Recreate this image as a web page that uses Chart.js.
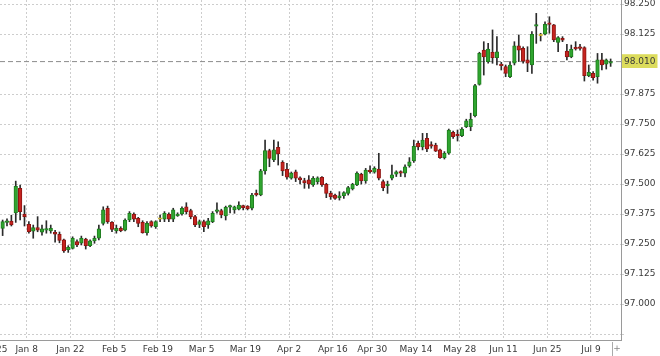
<!DOCTYPE html>
<html>
<head>
<meta charset="utf-8">
<script src="https://cdn.jsdelivr.net/npm/chart.js@4.4.1/dist/chart.umd.min.js"></script>
<style>
  html, body { margin: 0; padding: 0; background: #fff; }
  #wrap { width: 660px; height: 356px; }
</style>
</head>
<body>
<div id="wrap"><canvas id="priceChart" width="660" height="356"></canvas></div>
<script>
// daily candles, one per trading day (index 0 = first bar on the left)
var openPrices = [
  97.315, 97.340, 97.345, 97.380, 97.482, 97.374, 97.332, 97.303, 97.318, 97.299,
  97.308, 97.304, 97.299, 97.290, 97.267, 97.226, 97.232, 97.260, 97.253, 97.271,
  97.243, 97.263, 97.274, 97.336, 97.399, 97.340, 97.304, 97.315, 97.308, 97.350,
  97.375, 97.357, 97.340, 97.297, 97.343, 97.322, 97.353, 97.353, 97.375, 97.353,
  97.368, 97.375, 97.405, 97.389, 97.364, 97.332, 97.343, 97.329, 97.343, 97.386,
  97.389, 97.367, 97.403, 97.392, 97.395, 97.410, 97.408, 97.399, 97.461, 97.454,
  97.555, 97.639, 97.600, 97.653, 97.590, 97.561, 97.524, 97.551, 97.526, 97.514,
  97.517, 97.496, 97.510, 97.528, 97.499, 97.461, 97.454, 97.443, 97.451, 97.461,
  97.479, 97.496, 97.540, 97.513, 97.558, 97.549, 97.562, 97.510, 97.493, 97.524,
  97.541, 97.551, 97.545, 97.575, 97.597, 97.669, 97.655, 97.690, 97.662, 97.662,
  97.642, 97.610, 97.628, 97.715, 97.707, 97.701, 97.739, 97.739, 97.785, 97.915,
  98.058, 98.010, 98.049, 98.026, 98.000, 97.989, 97.947, 98.003, 98.076, 98.065,
  98.017, 97.996, 98.158, 98.118, 98.124, 98.170, 98.163, 98.090, 98.107, 98.054,
  98.030, 98.068, 98.072, 98.068, 97.951, 97.961, 97.947, 98.017, 97.999, 98.003
];
var highPrices = [
  97.350, 97.355, 97.370, 97.512, 97.496, 97.410, 97.343, 97.329, 97.364, 97.329,
  97.347, 97.329, 97.307, 97.300, 97.270, 97.243, 97.280, 97.267, 97.283, 97.274,
  97.267, 97.283, 97.329, 97.405, 97.408, 97.343, 97.329, 97.322, 97.355, 97.385,
  97.380, 97.361, 97.347, 97.343, 97.347, 97.347, 97.370, 97.385, 97.380, 97.399,
  97.380, 97.405, 97.422, 97.395, 97.369, 97.350, 97.350, 97.357, 97.385, 97.422,
  97.395, 97.408, 97.412, 97.408, 97.426, 97.412, 97.410, 97.461, 97.475, 97.561,
  97.683, 97.645, 97.683, 97.676, 97.597, 97.586, 97.550, 97.558, 97.530, 97.524,
  97.535, 97.531, 97.530, 97.531, 97.503, 97.470, 97.458, 97.468, 97.468, 97.490,
  97.503, 97.551, 97.545, 97.565, 97.576, 97.572, 97.628, 97.517, 97.512, 97.579,
  97.555, 97.555, 97.580, 97.610, 97.683, 97.679, 97.711, 97.711, 97.676, 97.670,
  97.646, 97.635, 97.729, 97.721, 97.725, 97.735, 97.770, 97.795, 97.915, 98.049,
  98.093, 98.086, 98.142, 98.114, 98.007, 97.996, 98.010, 98.093, 98.121, 98.072,
  98.072, 98.135, 98.211, 98.128, 98.176, 98.197, 98.165, 98.114, 98.114, 98.082,
  98.079, 98.093, 98.082, 98.072, 97.996, 97.968, 98.044, 98.044, 98.021, 98.021
];
var lowPrices = [
  97.285, 97.325, 97.325, 97.340, 97.350, 97.325, 97.295, 97.274, 97.301, 97.287,
  97.295, 97.295, 97.258, 97.255, 97.215, 97.215, 97.229, 97.239, 97.246, 97.229,
  97.239, 97.253, 97.267, 97.329, 97.336, 97.301, 97.295, 97.301, 97.304, 97.343,
  97.343, 97.322, 97.295, 97.287, 97.320, 97.315, 97.343, 97.343, 97.343, 97.343,
  97.365, 97.370, 97.375, 97.355, 97.322, 97.318, 97.301, 97.315, 97.339, 97.378,
  97.359, 97.350, 97.380, 97.378, 97.392, 97.392, 97.392, 97.392, 97.450, 97.451,
  97.541, 97.572, 97.593, 97.579, 97.535, 97.520, 97.520, 97.510, 97.500, 97.482,
  97.482, 97.490, 97.500, 97.490, 97.443, 97.436, 97.436, 97.433, 97.440, 97.454,
  97.475, 97.493, 97.500, 97.503, 97.545, 97.545, 97.517, 97.472, 97.461, 97.517,
  97.531, 97.531, 97.530, 97.570, 97.590, 97.642, 97.642, 97.635, 97.649, 97.635,
  97.607, 97.604, 97.624, 97.690, 97.679, 97.697, 97.735, 97.722, 97.780, 97.912,
  97.954, 98.003, 98.003, 97.996, 97.975, 97.947, 97.943, 97.996, 98.010, 98.003,
  97.968, 97.961, 98.086, 98.096, 98.121, 98.128, 98.093, 98.051, 98.093, 98.017,
  98.026, 98.058, 98.058, 97.929, 97.947, 97.933, 97.920, 97.975, 97.979, 97.990
];
var closePrices = [
  97.343, 97.345, 97.330, 97.490, 97.385, 97.364, 97.301, 97.318, 97.308, 97.313,
  97.312, 97.315, 97.291, 97.265, 97.221, 97.236, 97.274, 97.246, 97.274, 97.243,
  97.263, 97.274, 97.313, 97.392, 97.343, 97.311, 97.315, 97.306, 97.350, 97.378,
  97.353, 97.336, 97.297, 97.336, 97.325, 97.343, 97.353, 97.378, 97.353, 97.392,
  97.373, 97.399, 97.385, 97.364, 97.329, 97.343, 97.322, 97.347, 97.378, 97.389,
  97.371, 97.403, 97.410, 97.405, 97.412, 97.401, 97.397, 97.454, 97.454, 97.555,
  97.639, 97.607, 97.642, 97.625, 97.555, 97.528, 97.545, 97.524, 97.517, 97.505,
  97.499, 97.524, 97.526, 97.496, 97.461, 97.447, 97.440, 97.451, 97.464, 97.485,
  97.499, 97.545, 97.513, 97.558, 97.551, 97.565, 97.524, 97.485, 97.499, 97.538,
  97.551, 97.545, 97.572, 97.592, 97.657, 97.655, 97.683, 97.646, 97.658, 97.637,
  97.610, 97.628, 97.725, 97.697, 97.701, 97.729, 97.763, 97.770, 97.910, 98.045,
  98.030, 98.062, 98.026, 98.051, 97.993, 97.961, 97.996, 98.076, 98.058, 98.012,
  98.003, 98.124, 98.161, 98.118, 98.165, 98.165, 98.100, 98.110, 98.099, 98.030,
  98.061, 98.063, 98.065, 97.951, 97.965, 97.943, 98.017, 97.996, 98.017, 98.010
];

// date labels sit on the boundary before the first bar of that day
var tickLabels = ['Dec 25', 'Jan 8', 'Jan 22', 'Feb 5', 'Feb 19', 'Mar 5', 'Mar 19',
  'Apr 2', 'Apr 16', 'Apr 30', 'May 14', 'May 28', 'Jun 11', 'Jun 25', 'Jul 9'];
var tickIndex = [-2.5, 5.5, 15.5, 25.5, 35.5, 45.5, 55.5, 65.5, 75.5, 84.5,
  94.5, 104.5, 114.5, 124.5, 134.5];
var priceTicks = [96.875, 97.000, 97.125, 97.250, 97.375, 97.500, 97.625,
  97.750, 97.875, 98.125, 98.250];

var lastClose = closePrices[closePrices.length - 1];
var xMin = -0.6, xMax = 141.37;

var wicks = [], bodies = [], bodyFill = [], bodyLine = [];
for (var i = 0; i < openPrices.length; i++) {
  wicks.push({ x: i, y: [lowPrices[i], highPrices[i]] });
  bodies.push({ x: i, y: [openPrices[i], closePrices[i]] });
  if (closePrices[i] > openPrices[i]) {
    bodyFill.push('#2fa52f'); bodyLine.push('#1f7d1f');
  } else if (closePrices[i] < openPrices[i]) {
    bodyFill.push('#c62420'); bodyLine.push('#8f1512');
  } else {
    bodyFill.push('#e6cf45'); bodyLine.push('#c9b030');
  }
}

var yTicks = priceTicks.concat([lastClose]).sort(function (a, b) { return a - b; });
var isLast = function (v) { return Math.abs(v - lastClose) < 1e-9; };
var gridGrey = '#cdcdcd';
var font9 = { family: 'DejaVu Sans', size: 9 };

var cornerPlugin = {
  id: 'cornerPlus',
  afterDraw: function (chart) {
    var ctx = chart.ctx, a = chart.chartArea;
    ctx.save();
    ctx.strokeStyle = '#aaaaaa';
    ctx.lineWidth = 1;
    ctx.beginPath();
    ctx.moveTo(a.right - 8.5, a.bottom + 2);
    ctx.lineTo(a.right - 8.5, chart.height);
    ctx.stroke();
    ctx.fillStyle = '#888888';
    ctx.font = '9px "DejaVu Sans"';
    ctx.textAlign = 'center';
    ctx.textBaseline = 'middle';
    ctx.fillText('+', a.right - 4, a.bottom + 9);
    ctx.restore();
  }
};

new Chart(document.getElementById('priceChart').getContext('2d'), {
  type: 'bar',
  data: {
    datasets: [{
      label: 'body',
      data: bodies,
      backgroundColor: bodyFill,
      borderColor: bodyLine,
      borderWidth: 1,
      borderSkipped: false,
      barThickness: 3.6,
      minBarLength: 1.5,
      grouped: false,
      order: 0
    }, {
      label: 'wick',
      data: wicks,
      backgroundColor: '#2b2b2b',
      borderWidth: 0,
      barThickness: 1,
      grouped: false,
      order: 1
    }, {
      type: 'line',
      label: 'last',
      data: [{ x: xMin, y: lastClose }, { x: xMax, y: lastClose }],
      borderColor: '#8c8c8c',
      borderWidth: 1,
      borderDash: [5, 3],
      pointRadius: 0,
      order: 2
    }]
  },
  options: {
    responsive: false,
    animation: false,
    layout: { padding: 0, autoPadding: false },
    plugins: {
      legend: { display: false },
      tooltip: { enabled: false }
    },
    scales: {
      x: {
        type: 'linear',
        offset: false,
        min: xMin,
        max: xMax,
        afterBuildTicks: function (s) {
          s.ticks = tickIndex.map(function (v) { return { value: v }; });
        },
        afterFit: function (s) {
          s.height = 16;
          s.paddingLeft = 0;
          s.paddingRight = 0;
        },
        grid: { color: gridGrey, drawTicks: false, offset: false },
        border: { color: '#9a9a9a', dash: [2, 2] },
        ticks: {
          autoSkip: false,
          maxRotation: 0,
          padding: 4,
          color: '#3a3a3a',
          font: font9,
          callback: function (value, index) { return tickLabels[index]; }
        }
      },
      y: {
        position: 'right',
        min: 96.85,
        max: 98.2667,
        afterBuildTicks: function (s) {
          s.ticks = yTicks.map(function (v) { return { value: v }; });
        },
        afterFit: function (s) {
          s.width = 39;
          s.paddingTop = 0;
          s.paddingBottom = 0;
        },
        grid: {
          color: function (c) { return isLast(c.tick.value) ? 'rgba(0,0,0,0)' : gridGrey; },
          tickColor: function (c) { return isLast(c.tick.value) ? 'rgba(0,0,0,0)' : gridGrey; },
          tickLength: 3
        },
        border: { color: '#9a9a9a', dash: [2, 2] },
        ticks: {
          padding: 0,
          color: '#3a3a3a',
          font: font9,
          showLabelBackdrop: function (c) { return isLast(c.tick.value); },
          backdropColor: '#dcdc5c',
          backdropPadding: { top: 2, bottom: 1, left: 2, right: 2 },
          callback: function (value) {
            if (value < 96.9) return '';
            return value.toFixed(3);
          }
        }
      }
    }
  },
  plugins: [cornerPlugin]
});
</script>
</body>
</html>
